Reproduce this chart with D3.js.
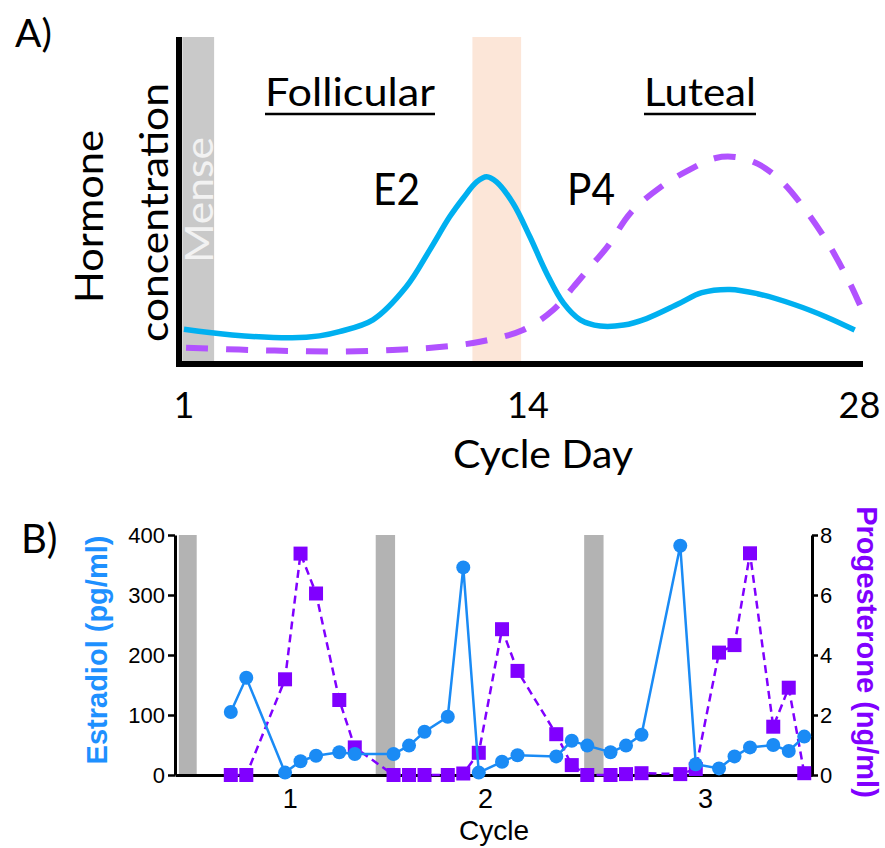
<!DOCTYPE html>
<html><head><meta charset="utf-8">
<script src="https://cdn.jsdelivr.net/npm/d3@7"></script>
<style>body{margin:0;background:#fff} svg{display:block;background:#fff}</style>
</head><body>
<svg id="c" width="885" height="848"></svg>
<script>
// ---------- Panel A: schematic hormone curves ----------
const tickDaysA = [1, 14, 28];
const menseBandA = [0.94, 2.14];
const ovulationBandA = [11.9, 13.74];
const e2Day   = [1.0, 2.82, 5.09, 6.12, 6.87, 8.14, 9.40, 10.29, 11.04, 11.55, 12.06, 12.44, 12.81, 13.44, 14.08, 14.79, 15.50, 16.21, 17.05, 18.04, 19.01, 20.36, 21.34, 22.53, 23.69, 25.24, 26.60, 27.80];
const e2Level = [10.6, 8.9, 8.0, 8.6, 9.9, 13.5, 23.6, 34.9, 45.0, 50.7, 55.7, 57.3, 55.7, 49.1, 38.9, 27.7, 18.6, 13.5, 11.6, 11.9, 13.9, 18.4, 21.8, 22.8, 21.5, 18.2, 14.4, 10.4];
const p4Day   = [1.08, 3.08, 4.98, 6.87, 8.88, 10.55, 12.18, 13.81, 15.06, 15.91, 16.63, 17.35, 18.33, 19.60, 20.79, 21.93, 22.74, 23.71, 24.69, 25.66, 26.64, 27.57, 28.08];
const p4Level = [5.0, 4.4, 4.0, 3.8, 4.3, 5.1, 6.8, 10.4, 16.5, 23.5, 29.7, 35.8, 46.2, 54.1, 59.3, 63.0, 63.3, 61.2, 56.0, 47.7, 37.3, 25.1, 17.1];

// ---------- Panel B: measured hormones ----------
const sampleDay = [0, 2, 7, 9, 11, 14, 16, 21, 23, 25, 28, 30, 32, 35, 37, 42, 44, 46, 49, 51, 53, 58, 60, 63, 65, 67, 70, 72, 74];
const estradiol = [105, 162, 4, 23, 32, 38, 35, 35, 49, 72, 97, 346, 4, 22, 33, 31, 57, 49, 38, 49, 67, 382, 18, 11, 31, 46, 50, 40, 64];
const progesterone = [0, 0, 3.19, 7.38, 6.05, 2.5, 0.92, 0, 0, 0, 0, 0.05, 0.74, 4.86, 3.47, 1.36, 0.33, 0, 0, 0.03, 0.06, 0.03, 0.2, 4.08, 4.33, 7.39, 1.61, 2.91, 0.06];
const mensesStart = [-6.7, 18.7, 45.6];
const mensesEnd   = [-4.4, 21.2, 48.1];
const cycleTickDay = [7.6, 32.8, 61.2];
const cycleLabels = ["1", "2", "3"];
const e2Ticks = [0, 100, 200, 300, 400];
const p4Ticks = [0, 2, 4, 6, 8];

const svg = d3.select("#c");
const LATO = "Lato, 'Open Sans', sans-serif";
const ARIAL = "'Liberation Sans', Arial, sans-serif";

// ===== Panel A =====
const xA = d3.scaleLinear().domain([0.7, 14, 28.15]).range([176, 528, 863]);
const yA = d3.scaleLinear().domain([0, 100]).range([364, 37]);
const gA = svg.append("g");

gA.append("rect")
  .attr("x", xA(menseBandA[0])).attr("width", xA(menseBandA[1]) - xA(menseBandA[0]))
  .attr("y", yA(100)).attr("height", yA(0) - yA(100))
  .attr("fill", "#c9c9c9");
gA.append("rect")
  .attr("x", xA(ovulationBandA[0])).attr("width", xA(ovulationBandA[1]) - xA(ovulationBandA[0]))
  .attr("y", yA(100)).attr("height", yA(0) - yA(100))
  .attr("fill", "#fce6d8");

gA.append("text")
  .attr("transform", `translate(${xA(menseBandA[1]) - 1},${200}) rotate(-90)`)
  .attr("text-anchor", "middle")
  .attr("textLength", 126).attr("lengthAdjust", "spacingAndGlyphs")
  .style("font-family", LATO).style("font-size", "38px").attr("fill", "#f2f2f2")
  .text("Mense");

const lineA = d3.line().x(d => xA(d[0])).y(d => yA(d[1])).curve(d3.curveCatmullRom.alpha(0.5));
gA.append("path").datum(e2Day.map((d, i) => [d, e2Level[i]]))
  .attr("d", lineA).attr("fill", "none").attr("stroke", "#00b0f0").attr("stroke-width", 5.5);
gA.append("path").datum(p4Day.map((d, i) => [d, p4Level[i]]))
  .attr("d", lineA).attr("fill", "none").attr("stroke", "#b152ff").attr("stroke-width", 6)
  .attr("stroke-dasharray", "22,18");

// axes A
gA.append("line").attr("x1", 179).attr("x2", 179).attr("y1", yA(100)).attr("y2", yA(0) + 3)
  .attr("stroke", "#000").attr("stroke-width", 6);
gA.append("line").attr("x1", xA.range()[0]).attr("x2", xA.range()[2]).attr("y1", yA(0)).attr("y2", yA(0))
  .attr("stroke", "#000").attr("stroke-width", 6);

gA.selectAll("text.tick").data(tickDaysA).enter().append("text").attr("class", "tick")
  .attr("x", d => xA(d)).attr("y", 418).attr("text-anchor", "middle")
  .style("font-family", LATO).style("font-size", "36px").attr("fill", "#000")
  .text(d => d);

gA.append("text").attr("x", 543).attr("y", 468).attr("text-anchor", "middle")
  .attr("textLength", 180).attr("lengthAdjust", "spacingAndGlyphs")
  .style("font-family", LATO).style("font-size", "39px").text("Cycle Day");

gA.append("text").attr("transform", "translate(103,216.5) rotate(-90)").attr("text-anchor", "middle")
  .attr("textLength", 173).attr("lengthAdjust", "spacingAndGlyphs")
  .style("font-family", LATO).style("font-size", "39px").text("Hormone");
gA.append("text").attr("transform", "translate(168,212.5) rotate(-90)").attr("text-anchor", "middle")
  .attr("textLength", 259).attr("lengthAdjust", "spacingAndGlyphs")
  .style("font-family", LATO).style("font-size", "39px").text("concentration");

function phaseLabel(txt, x0, w) {
  gA.append("text").attr("x", x0).attr("y", 106)
    .attr("textLength", w).attr("lengthAdjust", "spacingAndGlyphs")
    .style("font-family", LATO).style("font-size", "39px").text(txt);
  gA.append("line").attr("x1", x0).attr("x2", x0 + w).attr("y1", 114).attr("y2", 114)
    .attr("stroke", "#000").attr("stroke-width", 2.5);
}
phaseLabel("Follicular", 265, 170);
phaseLabel("Luteal", 644, 112);

gA.append("text").attr("x", 373).attr("y", 205).attr("textLength", 47).attr("lengthAdjust", "spacingAndGlyphs")
  .style("font-family", LATO).style("font-size", "44px").text("E2");
gA.append("text").attr("x", 567).attr("y", 205).attr("textLength", 48).attr("lengthAdjust", "spacingAndGlyphs")
  .style("font-family", LATO).style("font-size", "44px").text("P4");

svg.append("text").attr("x", 15).attr("y", 47)
  .style("font-family", LATO).style("font-size", "39px").text("A)");
svg.append("text").attr("x", 21).attr("y", 553)
  .style("font-family", LATO).style("font-size", "40px").text("B)");

// ===== Panel B =====
const xB = d3.scaleLinear().domain([-7.2, 75]).range([175, 812]);
const yE = d3.scaleLinear().domain([0, 400]).range([775, 535]);
const yP = d3.scaleLinear().domain([0, 8]).range([775, 535]);
const gB = svg.append("g");

gB.selectAll("rect.menses").data(mensesStart).enter().append("rect").attr("class", "menses")
  .attr("x", d => xB(d)).attr("width", (d, i) => xB(mensesEnd[i]) - xB(d))
  .attr("y", yE(400)).attr("height", yE(0) - yE(400)).attr("fill", "#b3b3b3");

function styleAxis(g, fs) {
  g.select(".domain").attr("stroke-width", 3).attr("stroke", "#000");
  g.selectAll(".tick line").attr("stroke-width", 2.5).attr("stroke", "#000");
  g.selectAll(".tick text").style("font-family", ARIAL).style("font-size", fs + "px").attr("fill", "#000");
}
const axL = gB.append("g").attr("transform", `translate(${xB.range()[0]},0)`)
  .call(d3.axisLeft(yE).tickValues(e2Ticks).tickSize(7).tickSizeOuter(0).tickPadding(3));
styleAxis(axL, 22);
const axR = gB.append("g").attr("transform", `translate(${xB.range()[1]},0)`)
  .call(d3.axisRight(yP).tickValues(p4Ticks).tickSize(6).tickSizeOuter(0).tickPadding(2));
styleAxis(axR, 22);
const axB = gB.append("g").attr("transform", `translate(0,${yE(0)})`)
  .call(d3.axisBottom(xB).tickValues(cycleTickDay).tickFormat((d, i) => cycleLabels[i]).tickSize(0).tickSizeOuter(0).tickPadding(14));
styleAxis(axB, 27);

const lineP = d3.line().x((d, i) => xB(sampleDay[i])).y(d => yP(d));
const lineE = d3.line().x((d, i) => xB(sampleDay[i])).y(d => yE(d));
gB.append("path").datum(progesterone).attr("d", lineP).attr("fill", "none")
  .attr("stroke", "#8000ff").attr("stroke-width", 2.5).attr("stroke-dasharray", "8,5");
gB.selectAll("rect.p4").data(progesterone).enter().append("rect").attr("class", "p4")
  .attr("x", (d, i) => xB(sampleDay[i]) - 7).attr("y", d => yP(d) - 7)
  .attr("width", 14).attr("height", 14).attr("fill", "#8000ff");
gB.append("path").datum(estradiol).attr("d", lineE).attr("fill", "none")
  .attr("stroke", "#1a8bf5").attr("stroke-width", 2.5);
gB.selectAll("circle.e2").data(estradiol).enter().append("circle").attr("class", "e2")
  .attr("cx", (d, i) => xB(sampleDay[i])).attr("cy", d => yE(d)).attr("r", 7)
  .attr("fill", "#1a8bf5");

gB.append("text").attr("transform", "translate(107,650) rotate(-90)").attr("text-anchor", "middle")
  .style("font-family", ARIAL).style("font-size", "29px").style("font-weight", "bold")
  .attr("fill", "#1e90ff").text("Estradiol (pg/ml)");
gB.append("text").attr("transform", "translate(857,652) rotate(90)").attr("text-anchor", "middle")
  .style("font-family", ARIAL).style("font-size", "29px").style("font-weight", "bold")
  .attr("fill", "#8000ff").text("Progesterone (ng/ml)");
gB.append("text").attr("x", 494).attr("y", 840).attr("text-anchor", "middle")
  .style("font-family", ARIAL).style("font-size", "28px").text("Cycle");
</script>
</body></html>
